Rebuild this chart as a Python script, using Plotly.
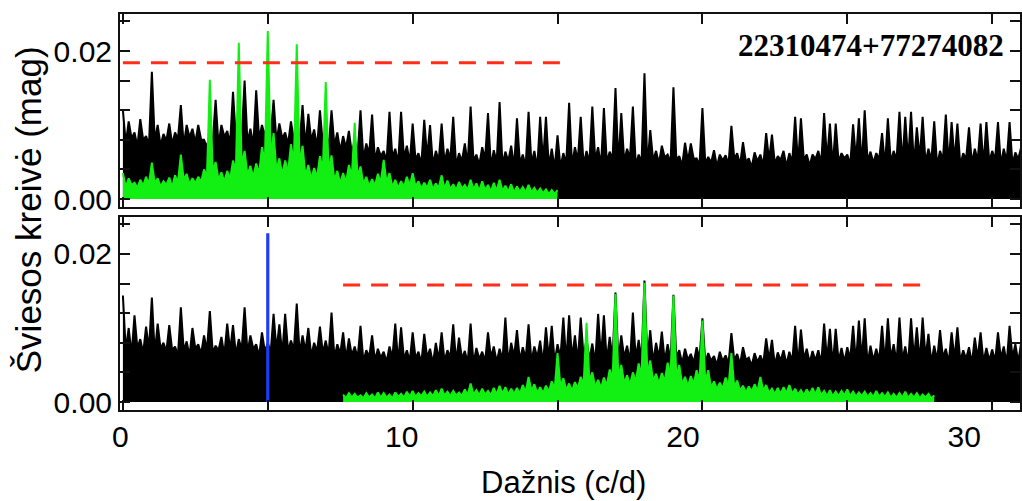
import numpy as np
import plotly.graph_objects as go

# ---------------- data (amplitudes in mmag, frequency grid step 0.1 c/d) ----------------
FREQ_STEP = 0.1

# upper panel: original light-curve periodogram (black) and signal periodogram (green)
black_top_start = 0.0
black_top_mmag = [
    12.0, 7.5, 10.5, 8.2, 9.0, 7.1, 10.8, 8.0, 8.5, 7.3,
    17.2, 7.8, 10.0, 7.2, 8.8, 7.9, 10.2, 7.4, 9.0, 8.1,
    12.7, 7.2, 10.0, 8.3, 9.5, 7.6, 10.0, 8.0, 8.0, 7.0,
    9.0, 7.7, 13.4, 7.3, 10.0, 8.4, 9.2, 7.5, 14.5, 8.0,
    10.5, 8.3, 16.0, 7.6, 9.5, 7.2, 14.7, 8.1, 10.0, 8.5,
    11.0, 8.4, 13.4, 7.8, 10.2, 8.2, 9.0, 7.4, 10.5, 8.0,
    10.0, 7.6, 12.7, 7.1, 11.5, 7.9, 9.4, 7.0, 12.0, 7.4,
    9.5, 6.8, 12.0, 7.2, 9.0, 6.5, 8.5, 6.9, 9.2, 6.2,
    8.0, 5.9, 12.0, 5.4, 7.5, 6.1, 11.4, 5.2, 7.0, 5.8,
    6.5, 5.1, 11.8, 5.6, 6.8, 4.8, 11.8, 5.5, 7.2, 4.9,
    10.2, 5.3, 6.2, 4.7, 10.7, 5.6, 10.0, 4.6, 6.5, 5.2,
    10.2, 4.9, 6.8, 5.4, 11.1, 4.5, 6.2, 5.1, 7.5, 4.7,
    12.5, 5.2, 6.0, 4.6, 7.0, 5.4, 11.6, 4.4, 6.6, 5.0,
    13.1, 4.6, 6.4, 5.1, 7.2, 4.3, 10.9, 4.9, 6.0, 4.5,
    11.8, 4.8, 6.5, 4.2, 11.1, 5.0, 11.1, 4.4, 6.8, 4.1,
    8.6, 4.3, 6.2, 4.8, 13.0, 4.5, 7.0, 5.2, 11.1, 4.6,
    6.5, 4.9, 12.5, 5.3, 7.0, 4.4, 12.3, 5.0, 6.4, 5.4,
    15.0, 4.7, 11.6, 5.1, 6.8, 5.5, 12.5, 4.6, 6.0, 5.0,
    17.0, 4.4, 9.3, 5.2, 6.5, 4.8, 7.2, 5.6, 6.0, 4.9,
    15.1, 5.3, 5.8, 4.5, 7.6, 5.1, 7.5, 5.4, 5.5, 4.6,
    12.3, 4.8, 5.7, 4.9, 6.6, 4.4, 6.0, 5.2, 5.9, 4.7,
    9.9, 5.4, 6.2, 4.6, 7.7, 5.0, 5.5, 4.3, 6.3, 5.1,
    6.0, 4.5, 8.9, 5.2, 8.7, 4.8, 5.8, 5.3, 6.5, 4.4,
    6.2, 5.0, 11.1, 4.7, 10.9, 5.3, 6.0, 4.5, 6.0, 5.4,
    6.5, 4.8, 11.6, 5.2, 10.2, 4.4, 10.2, 5.0, 6.2, 5.5,
    6.0, 4.6, 10.1, 5.3, 10.9, 4.5, 12.0, 5.1, 6.4, 4.9,
    6.2, 5.4, 8.9, 4.4, 10.9, 5.0, 6.5, 5.3, 11.8, 4.7,
    11.1, 5.1, 11.8, 4.6, 9.7, 5.5, 11.1, 4.9, 6.8, 5.2,
    10.5, 4.5, 6.5, 5.3, 11.4, 4.7, 10.4, 5.1, 10.2, 4.6,
    6.2, 5.4, 9.7, 4.8, 6.8, 5.2, 10.2, 4.5, 10.4, 5.0,
    6.5, 5.3, 10.4, 4.6, 6.8, 5.1, 10.4, 4.7, 6.3, 5.4,
    7.0,
]

green_top_start = 0.0
green_top_mmag = [
    3.5, 1.6, 2.8, 1.9, 2.2, 1.5, 2.6, 1.8, 3.0, 2.0,
    4.9, 2.1, 2.8, 1.7, 2.4, 1.9, 2.9, 1.6, 3.2, 2.2,
    6.0, 2.6, 3.4, 2.0, 2.8, 2.1, 3.0, 2.3, 4.0, 2.9,
    16.1, 3.6, 5.0, 2.6, 3.6, 2.3, 3.8, 2.7, 5.2, 3.8,
    21.1, 4.5, 6.5, 3.2, 4.5, 2.9, 4.8, 3.4, 7.0, 4.9,
    22.7, 5.6, 8.9, 3.8, 5.5, 3.3, 5.2, 3.6, 7.4, 4.8,
    20.9, 4.6, 7.2, 3.1, 4.6, 2.7, 4.2, 2.9, 5.8, 3.9,
    15.8, 3.8, 5.9, 2.5, 3.8, 2.1, 3.5, 2.2, 4.6, 3.0,
    10.3, 2.9, 4.4, 2.0, 3.0, 1.7, 2.7, 1.8, 3.4, 2.2,
    5.3, 2.2, 3.5, 1.6, 2.6, 1.5, 2.4, 1.6, 3.0, 1.8,
    3.5, 1.7, 2.4, 1.4, 2.2, 1.5, 2.6, 1.3, 2.1, 1.5,
    3.2, 1.4, 2.5, 1.3, 2.0, 1.2, 2.3, 1.4, 1.9, 1.2,
    2.6, 1.3, 2.1, 1.1, 2.4, 1.2, 1.9, 1.0, 2.2, 1.1,
    2.6, 1.1, 1.8, 1.0, 2.0, 0.9, 1.7, 1.0, 1.6, 0.9,
    1.9, 0.9, 1.5, 0.8, 1.4, 0.8, 1.3, 0.7, 1.2, 0.7,
    1.2,
]

# lower panel: residual periodogram (black) and signal periodogram (green)
black_bot_start = 0.0
black_bot_mmag = [
    14.4, 7.0, 10.0, 6.4, 11.7, 7.3, 8.5, 6.6, 10.2, 7.1,
    14.1, 6.5, 10.6, 7.2, 8.0, 6.8, 10.4, 7.0, 7.5, 6.3,
    12.8, 6.9, 8.2, 6.2, 10.0, 7.2, 7.8, 6.5, 9.0, 7.0,
    12.3, 6.7, 7.6, 7.0, 8.8, 6.3, 10.6, 6.9, 10.4, 6.4,
    8.5, 7.1, 12.8, 6.6, 9.0, 7.2, 7.8, 6.2, 9.4, 6.8,
    8.0, 6.7, 11.9, 7.0, 10.5, 6.4, 11.9, 6.9, 8.3, 7.1,
    13.3, 6.5, 9.0, 6.9, 10.0, 6.2, 8.0, 6.8, 10.2, 6.6,
    8.3, 6.4, 12.1, 6.0, 7.8, 6.5, 9.4, 5.8, 8.6, 6.3,
    7.5, 5.9, 10.3, 5.5, 7.0, 6.1, 9.0, 5.6, 7.2, 6.0,
    6.8, 5.4, 7.5, 6.0, 10.6, 5.3, 10.1, 5.8, 7.0, 5.5,
    9.4, 5.9, 6.8, 5.3, 9.2, 6.0, 7.2, 5.2, 8.0, 5.7,
    9.4, 5.5, 7.0, 6.0, 10.5, 5.4, 8.7, 5.9, 6.9, 5.3,
    10.6, 5.2, 7.3, 5.8, 6.8, 5.5, 9.4, 6.0, 7.5, 5.4,
    7.2, 5.7, 11.4, 5.3, 8.0, 6.1, 9.7, 5.6, 7.4, 5.9,
    10.5, 5.5, 7.5, 6.0, 8.3, 5.2, 10.1, 5.8, 10.3, 5.4,
    7.8, 6.0, 11.4, 5.4, 11.7, 5.9, 9.0, 5.5, 11.4, 6.1,
    8.5, 5.7, 7.9, 5.3, 11.9, 6.0, 11.7, 5.5, 8.8, 5.9,
    14.8, 5.6, 9.0, 6.0, 7.6, 5.4, 12.1, 5.9, 8.4, 5.7,
    16.4, 5.9, 9.7, 5.4, 8.0, 6.0, 9.5, 5.5, 7.8, 5.6,
    14.5, 6.0, 7.0, 5.2, 7.2, 5.7, 6.5, 5.3, 7.4, 5.8,
    11.3, 5.3, 6.6, 5.6, 6.2, 5.0, 6.8, 5.5, 6.3, 5.2,
    9.3, 5.6, 6.5, 5.1, 7.4, 5.7, 6.0, 4.9, 6.6, 5.4,
    6.3, 5.2, 8.6, 5.7, 8.4, 5.0, 6.7, 5.6, 7.0, 5.1,
    6.8, 5.5, 10.3, 5.1, 9.8, 5.8, 7.2, 5.3, 6.9, 5.6,
    7.0, 5.2, 10.6, 5.7, 9.9, 5.0, 9.9, 5.5, 7.3, 5.4,
    7.4, 5.8, 10.3, 5.3, 11.0, 5.7, 11.3, 5.1, 7.6, 5.6,
    7.2, 5.6, 10.3, 5.2, 11.3, 5.9, 7.8, 5.4, 11.4, 5.7,
    7.5, 5.2, 11.3, 5.8, 10.1, 5.4, 11.4, 6.0, 9.2, 5.3,
    7.6, 5.6, 9.7, 6.0, 7.2, 5.3, 9.4, 5.8, 10.1, 5.5,
    7.0, 5.8, 7.4, 5.2, 8.7, 5.9, 9.4, 5.4, 7.3, 5.6,
    7.1, 5.5, 9.4, 5.9, 7.5, 5.2, 10.3, 6.0, 7.8, 5.4,
    8.0,
]

green_bot_start = 7.6
green_bot_mmag = [
    1.0, 0.5, 1.2, 0.6,
    1.1, 0.6, 0.9, 0.5, 1.2, 0.6, 1.0, 0.5, 1.3, 0.6,
    1.2, 0.6, 1.0, 0.5, 1.3, 0.7, 1.1, 0.6, 1.4, 0.7,
    1.5, 0.7, 1.2, 0.8, 1.4, 0.7, 1.3, 0.8, 1.6, 0.8,
    1.8, 0.9, 1.4, 0.8, 1.5, 0.9, 1.3, 0.8, 1.7, 0.9,
    2.5, 1.0, 1.6, 0.9, 1.8, 1.0, 1.5, 0.9, 1.9, 1.0,
    2.2, 1.1, 2.0, 1.0, 1.8, 1.1, 1.9, 1.1, 2.3, 1.3,
    3.4, 1.5, 2.4, 1.2, 2.0, 1.2, 2.2, 1.4, 2.8, 1.7,
    6.6, 2.1, 3.2, 1.6, 2.5, 1.5, 2.7, 1.8, 3.4, 2.3,
    10.7, 2.8, 4.0, 2.0, 3.0, 1.9, 3.3, 2.2, 4.4, 3.0,
    14.6, 3.4, 5.0, 2.5, 3.6, 2.3, 4.0, 2.8, 5.2, 3.5,
    16.1, 3.8, 5.6, 2.8, 3.8, 2.5, 3.9, 2.8, 5.3, 3.4,
    14.4, 3.3, 5.0, 2.4, 3.4, 2.1, 3.5, 2.4, 4.3, 2.8,
    11.0, 2.7, 4.3, 1.9, 2.8, 1.7, 2.6, 1.8, 3.3, 2.1,
    6.6, 2.0, 2.9, 1.5, 2.2, 1.3, 2.1, 1.4, 2.4, 1.5,
    3.4, 1.5, 2.3, 1.2, 1.8, 1.1, 1.9, 1.1, 2.0, 1.2,
    2.3, 1.1, 1.8, 1.0, 1.6, 0.9, 1.7, 1.0, 1.9, 1.0,
    2.0, 0.9, 1.5, 0.8, 1.6, 0.8, 1.4, 0.8, 1.5, 0.9,
    1.7, 0.8, 1.4, 0.7, 1.3, 0.8, 1.4, 0.7, 1.2, 0.7,
    1.5, 0.7, 1.2, 0.7, 1.3, 0.6, 1.1, 0.6, 1.2, 0.6,
    1.4, 0.6, 1.1, 0.6, 1.2, 0.5, 1.0, 0.6, 1.1, 0.5,
    0.9,
]

# significance thresholds (red dashed) and removed frequency (blue)
thr_top_freq = [0.0, 15.1]
thr_top_mmag = [18.4, 18.4]
thr_bot_freq = [7.6, 27.6]
thr_bot_mmag = [15.8, 15.8]
removed_freq = [5.0, 5.0]
removed_mmag = [0.0, 22.8]

x_tick_vals = [0, 10, 20, 30]
x_tick_text = ["0", "10", "20", "30"]
y_tick_vals = [0.0, 0.004, 0.008, 0.012, 0.016, 0.020, 0.024]
y_tick_text = ["0.00", "", "", "", "", "0.02", ""]
x_minor_ticks = [0, 5, 10, 15, 20, 25, 30]

star_id = "22310474+77274082"
y_title = "Šviesos kreivė (mag)"
x_title = "Dažnis (c/d)"


def grid(start, n):
    return np.round(start + FREQ_STEP * np.arange(n), 3)


def mag(v):
    return np.asarray(v, dtype=float) / 1000.0


BLACK = "#000000"
GREEN = "#12ef12"
RED = "#ff2d1a"
BLUE = "#1e3cf5"


def band(start, vals, color, width, xa, ya):
    return go.Scatter(x=grid(start, len(vals)), y=mag(vals), mode="lines",
                      line=dict(color=color, width=width), fill="tozeroy", fillcolor=color,
                      xaxis=xa, yaxis=ya, hoverinfo="skip")


fig = go.Figure()

# upper panel
fig.add_trace(band(black_top_start, black_top_mmag, BLACK, 2.0, "x", "y"))
fig.add_trace(band(green_top_start, green_top_mmag, GREEN, 2.0, "x", "y"))
fig.add_trace(go.Scatter(x=thr_top_freq, y=mag(thr_top_mmag), mode="lines",
                         line=dict(color=RED, width=3, dash="17px,11px"), xaxis="x", yaxis="y"))

# lower panel
fig.add_trace(band(black_bot_start, black_bot_mmag, BLACK, 2.0, "x2", "y2"))
fig.add_trace(band(green_bot_start, green_bot_mmag, GREEN, 2.0, "x2", "y2"))
fig.add_trace(go.Scatter(x=removed_freq, y=mag(removed_mmag), mode="lines",
                         line=dict(color=BLUE, width=3.2), xaxis="x2", yaxis="y2"))
fig.add_trace(go.Scatter(x=thr_bot_freq, y=mag(thr_bot_mmag), mode="lines",
                         line=dict(color=RED, width=3, dash="17px,11px"), xaxis="x2", yaxis="y2"))
# carrier for the labelled frequency axis
fig.add_trace(go.Scatter(x=[], y=[], xaxis="x3", yaxis="y2", showlegend=False))

TICKFONT = dict(family="Liberation Sans, Arial, sans-serif", size=30, color="#000")
frame = dict(showline=True, linecolor="#111", linewidth=2, mirror="ticks", ticks="inside",
             ticklen=10, tickwidth=2, tickcolor="#111", showgrid=False, zeroline=False)

X_RANGE = [-0.1, 30.96]
Y_RANGE = [-0.00108, 0.0250]

fig.update_layout(
    width=1022, height=501,
    margin=dict(l=120, r=0, t=14, b=91),
    paper_bgcolor="white", plot_bgcolor="white",
    showlegend=False,
    xaxis=dict(frame, domain=[0, 1], range=X_RANGE, tickvals=x_minor_ticks,
               showticklabels=False, anchor="y"),
    yaxis=dict(frame, domain=[0.5126, 1], range=Y_RANGE, tickvals=y_tick_vals,
               ticktext=y_tick_text, tickfont=TICKFONT, anchor="x"),
    xaxis2=dict(frame, domain=[0, 1], range=X_RANGE, tickvals=x_minor_ticks,
                showticklabels=False, anchor="y2"),
    yaxis2=dict(frame, domain=[0, 0.4874], range=Y_RANGE, tickvals=y_tick_vals,
                ticktext=y_tick_text, tickfont=TICKFONT, anchor="x2"),
    xaxis3=dict(overlaying="x2", anchor="y2", side="bottom", range=[-0.0142, 31.98],
                tickvals=x_tick_vals, ticktext=x_tick_text, ticks="", showline=False,
                showgrid=False, zeroline=False, tickfont=TICKFONT, ticklabelstandoff=6),
    annotations=[
        dict(text="<b>" + star_id + "</b>", xref="paper", yref="paper", x=0.9845, y=0.9217,
             xanchor="right", yanchor="middle", showarrow=False,
             font=dict(family="Liberation Serif, Times New Roman, serif", size=31, color="#000")),
        dict(text=y_title, xref="paper", yref="paper", x=-0.102, y=0.505, textangle=-90,
             xanchor="center", yanchor="middle", showarrow=False,
             font=dict(family="Liberation Sans, Arial, sans-serif", size=35, color="#000")),
        dict(text=x_title, xref="paper", yref="paper", x=0.493, y=-0.183,
             xanchor="center", yanchor="middle", showarrow=False,
             font=dict(family="Liberation Sans, Arial, sans-serif", size=31, color="#000")),
    ],
)

fig.write_html("out.html")
